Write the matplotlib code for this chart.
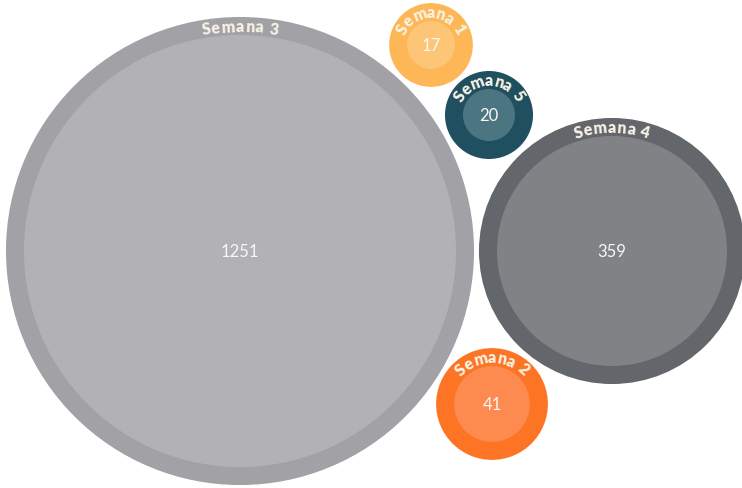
import numpy as np
import matplotlib
matplotlib.use("Agg")
import matplotlib.pyplot as plt
from matplotlib.patches import Circle
from matplotlib.font_manager import FontProperties

# datos
semanas = ["Semana 1", "Semana 2", "Semana 3", "Semana 4", "Semana 5"]
valores = [17, 41, 1251, 359, 20]
color_borde = ["#fdb757", "#fd7425", "#a1a1a6", "#63666a", "#20505f"]
color_dentro = ["#fdc677", "#fd8b4f", "#b2b1b6", "#808285", "#4b7681"]

# disposicion de las burbujas (centros en pixeles)
centros = [(431, 46), (492, 405), (240, 252), (612, 252), (489, 116)]

W, H = 742, 489
fig = plt.figure(figsize=(W / 100, H / 100), dpi=100)
ax = fig.add_axes([0, 0, 1, 1])
ax.set_xlim(0, W)
ax.set_ylim(H, 0)
ax.set_aspect("equal")
ax.axis("off")

anillo = 18
espaciado = 1.0  # separacion extra entre letras (px)
fp = FontProperties(family=["Lato", "DejaVu Sans"], weight="heavy", size=11.5)
renderer = fig.canvas.get_renderer()

def ancho(s):
    w, h, d = renderer.get_text_width_height_descent(s, fp, ismath=False)
    return w

def texto_curvo(s, cx, cy, rm):
    base = ancho("|")
    pos = []
    for i in range(len(s)):
        a0 = ancho(s[:i] + "|") - base if i > 0 else 0
        a1 = ancho(s[:i + 1] + "|") - base
        pos.append((a0 + a1) / 2 + i * espaciado)
    total = ancho(s + "|") - base + (len(s) - 1) * espaciado
    for ch, p in zip(s, pos):
        if ch == " ":
            continue
        off = p - total / 2
        th = np.pi / 2 - off / rm
        x = cx + rm * np.cos(th)
        y = cy - rm * np.sin(th)
        ax.text(x, y, ch, fontproperties=fp, color="#f7f2e4",
                rotation=np.degrees(th) - 90, rotation_mode="anchor",
                ha="center", va="center")

for nombre, v, cb, cd, (cx, cy) in zip(semanas, valores, color_borde, color_dentro, centros):
    r = 16.5 + 6.15 * np.sqrt(v)
    ax.add_patch(Circle((cx, cy), r, facecolor=cb, edgecolor="none"))
    ax.add_patch(Circle((cx, cy), r - anillo, facecolor=cd, edgecolor="none"))
    ax.text(cx, cy, str(v), ha="center", va="center", fontsize=12,
            color="#f7f7f7", family=["Lato", "DejaVu Sans"], fontweight="normal")
    texto_curvo(nombre, cx, cy, r - anillo / 2)

fig.savefig("out.png", dpi=100, facecolor="white")
